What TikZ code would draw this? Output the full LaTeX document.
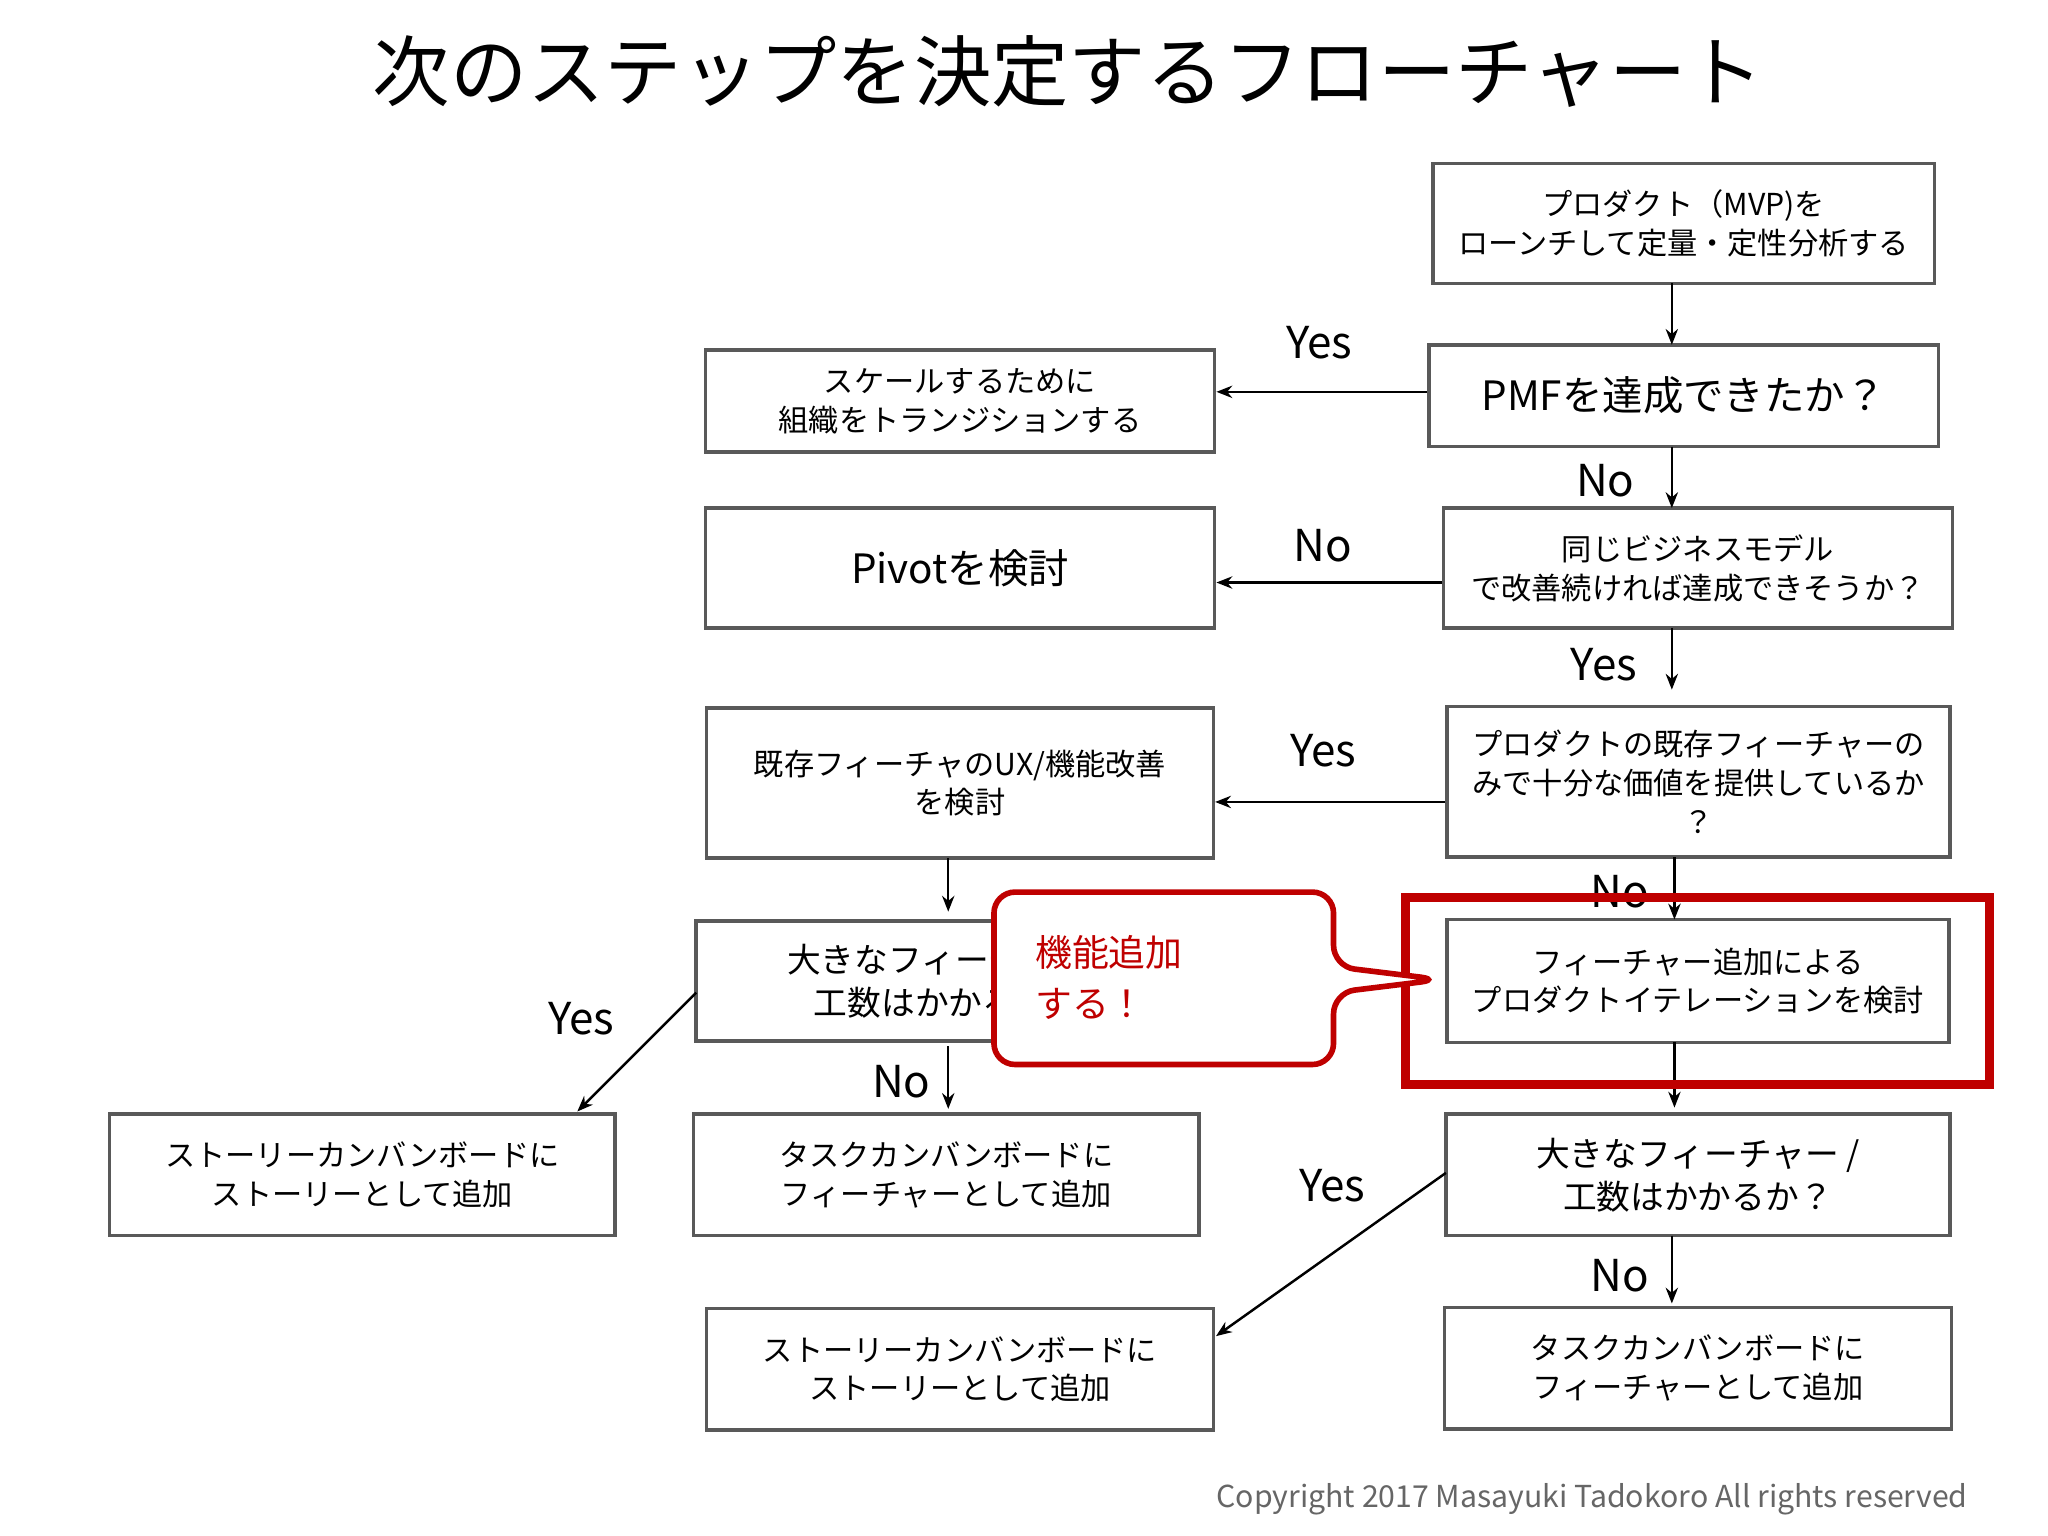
\documentclass[tikz,border=0pt]{standalone}
\usepackage{fontspec}
\setmainfont{Noto Sans CJK JP}
\usetikzlibrary{fit,arrows.meta}
\begin{document}
\begin{tikzpicture}[x=0.01306cm,y=-0.01306cm,
 box/.style={draw=black!65,line width=1pt,inner sep=0pt},
 tx/.style={align=center,inner sep=0pt,font=\fontsize{8.6pt}{11pt}\selectfont},
 big/.style={font=\fontsize{11.5pt}{14pt}\selectfont},
 mid/.style={font=\fontsize{9.6pt}{12.2pt}\selectfont},
 arr/.style={line width=0.7pt,-{Stealth[length=4.5pt,width=3.5pt]}},
 lab/.style={font=\fontsize{12.5pt}{14pt}\selectfont}]
\useasboundingbox[fill=white] (0,0) rectangle (1568,1176);
\node[font=\fontsize{22pt}{26pt}\selectfont] (title) at (818,55) {次のステップを決定するフローチャート};
\node[box,fit={(1097,125)(1481,217)}] (b1) {};
\node[tx] (t1) at (b1.center) {プロダクト（MVP)を\\ローンチして定量・定性分析する};
\node[box,fit={(1094,264)(1484,342)}] (b2) {};
\node[tx,big] (t2) at (b2.center) {PMFを達成できたか？};
\node[box,fit={(540,268)(930,346)}] (b3) {};
\node[tx] (t3) at (b3.center) {スケールするために\\組織をトランジションする};
\node[box,fit={(1105,389)(1495,481)}] (b4) {};
\node[tx] (t4) at (b4.center) {同じビジネスモデル\\で改善続ければ達成できそうか？};
\node[box,fit={(540,389)(930,481)}] (b5) {};
\node[tx,big] (t5) at (b5.center) {Pivotを検討};
\node[box,fit={(1108,541)(1493,656)}] (b6) {};
\node[tx] (t6) at (b6.center) {プロダクトの既存フィーチャーの\\みで十分な価値を提供しているか\\？};
\node[box,fit={(541,542)(929,657)}] (b7) {};
\node[tx] (t7) at (b7.center) {既存フィーチャのUX/機能改善\\を検討};
\node[box,fit={(533,705)(920,797)}] (b8) {};
\node[tx,mid] (t8) at (b8.center) {大きなフィーチャー /\\工数はかかるか？};
\node[box,fit={(1108,704)(1492,798)}] (b9) {};
\node[tx] (t9) at (b9.center) {フィーチャー追加による\\プロダクトイテレーションを検討};
\node[box,fit={(84,853)(471,946)}] (b10) {};
\node[tx] (t10) at (b10.center) {ストーリーカンバンボードに\\ストーリーとして追加};
\node[box,fit={(531,853)(918,946)}] (b11) {};
\node[tx] (t11) at (b11.center) {タスクカンバンボードに\\フィーチャーとして追加};
\node[box,fit={(1107,853)(1493,946)}] (b12) {};
\node[tx,mid] (t12) at (b12.center) {大きなフィーチャー /\\工数はかかるか？};
\node[box,fit={(541,1002)(929,1095)}] (b13) {};
\node[tx] (t13) at (b13.center) {ストーリーカンバンボードに\\ストーリーとして追加};
\node[box,fit={(1106,1001)(1494,1094)}] (b14) {};
\node[tx] (t14) at (b14.center) {タスクカンバンボードに\\フィーチャーとして追加};
\draw[arr] (1280,217) -- (1280,264);
\draw[arr] (b2.west |- 0,300) -- (b3.east |- 0,300);
\node[lab] (l1) at (1010,262) {Yes};
\draw[arr] (1280,342) -- (1280,389);
\node[lab] (l2) at (1229,368) {No};
\draw[arr] (b4.west |- 0,446) -- (b5.east |- 0,446);
\node[lab] (l3) at (1013,418) {No};
\draw[arr] (1280,481) -- (1280,528);
\node[lab] (l4) at (1228,509) {Yes};
\draw[arr] (b6.west |- 0,614) -- (b7.east |- 0,614);
\node[lab] (l5) at (1013,575) {Yes};
\draw[arr] (726,657) -- (726,698);
\draw[arr] (1282,656) -- (1282,704);
\node[lab] (l6) at (1240,683) {No};
\draw[arr] (533,760) -- (442,851);
\node[lab] (l7) at (445,780) {Yes};
\draw[arr] (726,801) -- (726,849);
\node[lab] (l8) at (690,828) {No};
\draw[arr] (1282,798) -- (1282,848);
\draw[arr] (1107,898) -- (931,1023);
\node[lab] (l9) at (1020,908) {Yes};
\draw[arr] (1280,946) -- (1280,998);
\node[lab] (l10) at (1240,977) {No};
\draw[red!75!black,line width=2.6pt] (1076,687) rectangle (1523,830);
\draw[red!75!black,line width=1.6pt,fill=white,rounded corners=6pt]
 (761,683) -- (1021,683) -- (1021,740) -- (1103,750) -- (1021,760) -- (1021,815) -- (761,815) -- cycle;
\node[red!75!black,align=left,anchor=north west,inner sep=0pt,font=\fontsize{10.5pt}{14.5pt}\selectfont] (co) at (792,716) {機能追加\\する！};
\node[black!60,anchor=east,inner sep=0pt,font=\fontsize{8.6pt}{10pt}\selectfont] (cp) at (1507,1148) {Copyright 2017 Masayuki Tadokoro All rights reserved};
\end{tikzpicture}
\end{document}
